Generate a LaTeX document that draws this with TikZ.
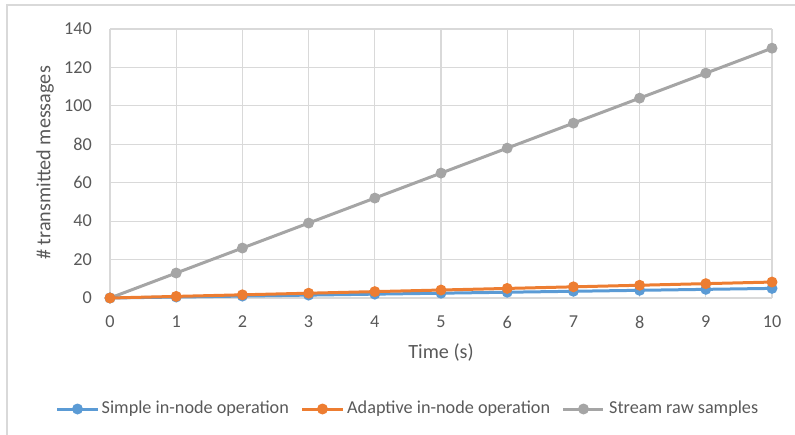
\documentclass[tikz,border=0pt]{standalone}
\usepackage{fontspec}
\setmainfont{Carlito}
\begin{document}
\begin{tikzpicture}[x=1bp,y=1bp,
  txt/.style={text=txtgray,font=\fontsize{18.2bp}{20bp}\selectfont,inner sep=0pt},
  ttl/.style={text=txtgray,font=\fontsize{20.2bp}{22bp}\selectfont,inner sep=0pt},
  grid/.style={draw=gridgray,line width=1.1bp},
  series/.style={line width=3bp,line join=round,line cap=round},
  dot/.style={circle,inner sep=0pt,minimum size=11bp}]
\definecolor{txtgray}{HTML}{595959}
\definecolor{gridgray}{HTML}{D9D9D9}
\definecolor{sblue}{HTML}{5B9BD5}
\definecolor{sorange}{HTML}{ED7D31}
\definecolor{sgray}{HTML}{A5A5A5}
\useasboundingbox (0,0) rectangle (795,-435);
% chart frame
\draw[gridgray,line width=1.2bp] (7,-440) -- (7,-5) -- (800,-5);
% plot area: x from 110 to 772 (0..10), y from -298 to -29 (0..140)
\begin{scope}[shift={(110,-298)},x=66.2bp,y=1.9215bp]
  \foreach \v in {0,20,...,140} {
    \draw[grid] (0,\v) -- (10,\v);
    \node[txt,anchor=east] (yl\v) at ([xshift=-18bp]0,\v) {\v};
  }
  \foreach \t in {0,...,10} {
    \draw[grid] (\t,0) -- (\t,140);
    \node[txt] (xl\t) at ([yshift=-24bp]\t,0) {\t};
  }
  % Stream raw samples
  \draw[series,sgray] plot[samples at={0,...,10}] (\x,{13*\x});
  \foreach \t in {0,...,10} \node[dot,fill=sgray] (g\t) at (\t,{13*\t}) {};
  % Simple in-node operation
  \draw[series,sblue] plot[samples at={0,...,10}] (\x,{0.5*\x});
  \foreach \t in {0,...,10} \node[dot,fill=sblue] (b\t) at (\t,{0.5*\t}) {};
  % Adaptive in-node operation
  \draw[series,sorange] plot[samples at={0,...,10}] (\x,{0.83*\x});
  \foreach \t in {0,...,10} \node[dot,fill=sorange] (o\t) at (\t,{0.83*\t}) {};
\end{scope}
% axis titles
\node[ttl,rotate=90] (ytitle) at (45,-163) {\# transmitted messages};
\node[ttl] (xtitle) at (441,-353) {Time (s)};
% legend
\coordinate (lb1) at (57,-409); \coordinate (lb2) at (98,-409);
\draw[series,sblue,line cap=butt] (lb1) -- (lb2);
\node[dot,fill=sblue] (lbm) at (77.5,-409) {};
\node[txt,anchor=west] (lbt) at (101.5,-409) {Simple in-node operation};
\coordinate (lo1) at (302,-409); \coordinate (lo2) at (343,-409);
\draw[series,sorange,line cap=butt] (lo1) -- (lo2);
\node[dot,fill=sorange] (lom) at (322.5,-409) {};
\node[txt,anchor=west] (lot) at (347,-409) {Adaptive in-node operation};
\coordinate (lg1) at (563,-409); \coordinate (lg2) at (603,-409);
\draw[series,sgray,line cap=butt] (lg1) -- (lg2);
\node[dot,fill=sgray] (lgm) at (583.5,-409) {};
\node[txt,anchor=west] (lgt) at (609,-409) {Stream raw samples};
\end{tikzpicture}
\end{document}
